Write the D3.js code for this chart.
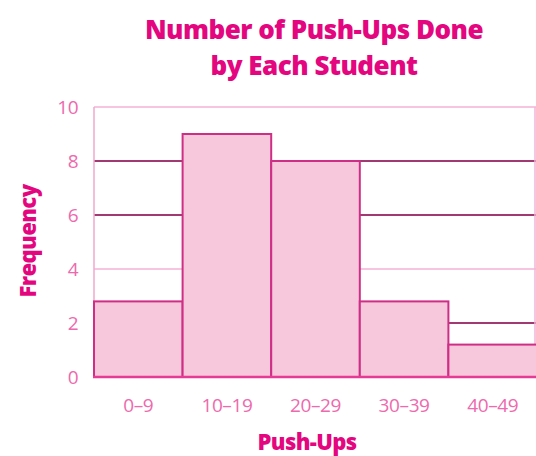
<!DOCTYPE html>
<html>
<head>
<meta charset="utf-8">
<script src="https://cdn.jsdelivr.net/npm/d3@7"></script>
<style>
  body { margin: 0; background: #fff; }
  svg { display: block; font-family: "Open Sans", "Noto Sans", sans-serif; }
</style>
</head>
<body>
<svg id="chart" width="536" height="456"></svg>
<script>
// chart data
const bins = ["0–9", "10–19", "20–29", "30–39", "40–49"];
const counts = [2.8, 9, 8, 2.8, 1.2];
const yTicks = [0, 2, 4, 6, 8, 10];
const darkGrid = [2, 6, 8]; // the darker rules
const lightGrid = [4, 10];
const titleLines = ["Number of Push-Ups Done", "by Each Student"];

const pink = "#e4067f";
const tickPink = "#ee69ad";

const svg = d3.select("#chart");

const x = d3.scaleBand().domain(bins).range([94, 537]).padding(0);
const y = d3.scaleLinear().domain([0, 10]).range([377, 107]);

// grid rules (bars sit on top of them)
svg.append("g")
    .selectAll("line")
    .data(lightGrid)
    .enter()
    .append("line")
    .attr("x1", 94)
    .attr("x2", 536)
    .attr("y1", d => y(d))
    .attr("y2", d => y(d))
    .style("stroke", "#f3b3d6")
    .style("stroke-width", 1.5);

svg.append("g")
    .selectAll("line")
    .data(darkGrid)
    .enter()
    .append("line")
    .attr("x1", 94)
    .attr("x2", 536)
    .attr("y1", d => y(d))
    .attr("y2", d => y(d))
    .style("stroke", "#a03a70")
    .style("stroke-width", 2);

// left axis line + right frame
svg.append("line")
    .attr("x1", 94).attr("x2", 94)
    .attr("y1", y(10)).attr("y2", y(0))
    .style("stroke", "#f0a8cf")
    .style("stroke-width", 1.5);
svg.append("line")
    .attr("x1", 535).attr("x2", 535)
    .attr("y1", y(10)).attr("y2", y(0))
    .style("stroke", "#f3b3d6")
    .style("stroke-width", 1.5);

// bars
svg.append("g")
    .selectAll("rect")
    .data(counts)
    .enter()
    .append("rect")
    .attr("x", (d, i) => x(bins[i]))
    .attr("width", x.bandwidth())
    .attr("y", d => y(d))
    .attr("height", d => y(0) - y(d))
    .style("fill", "#f7c7dc")
    .style("stroke", "#cf2e86")
    .style("stroke-width", 2);

// baseline
svg.append("line")
    .attr("x1", 93).attr("x2", 536)
    .attr("y1", y(0)).attr("y2", y(0))
    .style("stroke", "#e53b95")
    .style("stroke-width", 2.5);

// y tick labels
const yAxis = svg.append("g")
    .attr("transform", "translate(94,0)")
    .call(d3.axisLeft(y).tickValues(yTicks).tickSize(0).tickPadding(16));
yAxis.select(".domain").remove();
yAxis.selectAll("text")
    .style("font-size", "19px")
    .style("font-family", "\"Open Sans\", sans-serif")
    .style("letter-spacing", "-0.5px")
    .attr("fill", tickPink);

// x tick labels
const xAxis = svg.append("g")
    .attr("transform", "translate(0," + y(0) + ")")
    .call(d3.axisBottom(x).tickSize(0).tickPadding(22));
xAxis.select(".domain").remove();
xAxis.selectAll("text")
    .style("font-size", "19px")
    .style("font-family", "\"Open Sans\", sans-serif")
    .style("letter-spacing", "-0.4px")
    .attr("fill", tickPink);

// title, two lines
svg.append("text")
    .attr("text-anchor", "middle")
    .style("font-size", "26px").style("font-weight", "800")
    .style("letter-spacing", "-0.5px")
    .attr("fill", pink)
    .selectAll("tspan")
    .data(titleLines)
    .enter()
    .append("tspan")
    .attr("x", 314)
    .attr("y", (d, i) => i == 0 ? 39 : 75)
    .text(d => d);

svg.append("text")
    .attr("x", 307).attr("y", 450)
    .attr("text-anchor", "middle")
    .style("font-size", "22px").style("font-weight", "800")
    .style("letter-spacing", "-0.6px")
    .attr("fill", pink)
    .text("Push-Ups");

svg.append("text")
    .attr("transform", "translate(36,241) rotate(-90)")
    .attr("text-anchor", "middle")
    .style("font-size", "22px").style("font-weight", "800")
    .style("letter-spacing", "-0.6px")
    .attr("fill", pink)
    .text("Frequency");
</script>
</body>
</html>
